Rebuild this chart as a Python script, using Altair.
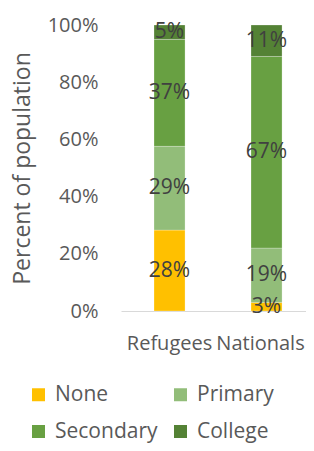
import altair as alt
import pandas as pd

groups = ["Refugees", "Nationals"]
levels = ["None", "Primary", "Secondary", "College"]
refugees = [28, 29, 37, 5]
nationals = [3, 19, 67, 11]
colors = ["#FFC000", "#92BD79", "#68A042", "#548235"]

rows = []
for g, vals in zip(groups, [refugees, nationals]):
    for i, (lv, v) in enumerate(zip(levels, vals)):
        rows.append({"group": g, "level": lv, "value": v, "order": i})
df = pd.DataFrame(rows)

FONT = "Open Sans"

base = alt.Chart(df).transform_stack(
    stack="value",
    groupby=["group"],
    as_=["y0", "y1"],
    sort=[alt.SortField("order", order="ascending")],
    offset="normalize",
).transform_calculate(
    mid="(datum.y0 + datum.y1) / 2",
    label="datum.value + '%'",
)

x_scale = alt.Scale(paddingInner=0.68, paddingOuter=0.2936, align=0.5794)

x_enc = alt.X(
    "group:N",
    sort=groups,
    scale=x_scale,
    axis=alt.Axis(
        title=None,
        labelAngle=0,
        labelFont=FONT,
        labelFontSize=20,
        labelColor="#595959",
        labelPadding=22,
        labelOffset={"condition": {"test": "datum.value == 'Nationals'", "value": -6}, "value": 0},
        ticks=False,
        tickSize=0,
        domainColor="#D9D9D9",
        domainWidth=1,
    ),
)

bars = base.mark_bar(stroke="#FFFFFF", strokeWidth=0.5, strokeOpacity=0.5).encode(
    x=x_enc,
    y=alt.Y(
        "y0:Q",
        scale=alt.Scale(domain=[0, 1]),
        axis=alt.Axis(
            format=".0%",
            values=[0, 0.2, 0.4, 0.6, 0.8, 1.0],
            title="Percent of population",
            titleFont=FONT,
            titleFontSize=23,
            titleFontWeight="normal",
            titleColor="#595959",
            titleX=-99,
            titleY=143,
            titleAngle=270,
            titleAlign="center",
            titleBaseline="middle",
            labelFont=FONT,
            labelFontSize=20,
            labelColor="#595959",
            labelPadding=23,
            grid=False,
            domain=False,
            ticks=False,
            tickSize=0,
        ),
    ),
    y2="y1:Q",
    color=alt.Color(
        "level:N",
        sort=levels,
        scale=alt.Scale(domain=levels, range=colors),
        legend=alt.Legend(
            title=None,
            orient="none",
            direction="horizontal",
            legendX=-93,
            legendY=359,
            columns=2,
            symbolType="square",
            symbolSize=169,
            symbolStrokeWidth=0,
            labelFont=FONT,
            labelFontSize=21,
            labelColor="#595959",
            labelOffset=6,
            columnPadding=12,
            rowPadding=15,
            padding=0,
        ),
    ),
)

text = base.mark_text(font=FONT, fontSize=21, color="#404040", baseline="middle").encode(
    x=alt.X("group:N", sort=groups, scale=x_scale),
    y=alt.Y("mid:Q"),
    text="label:N",
)

chart = alt.layer(bars, text).properties(
    width=185,
    height=286,
    padding={"left": 113, "top": 17, "right": 0, "bottom": 132},
    autosize=alt.AutoSizeParams(type="none"),
).configure_view(stroke=None)

chart.save("out.html", embed_options={"renderer": "svg", "actions": False})
